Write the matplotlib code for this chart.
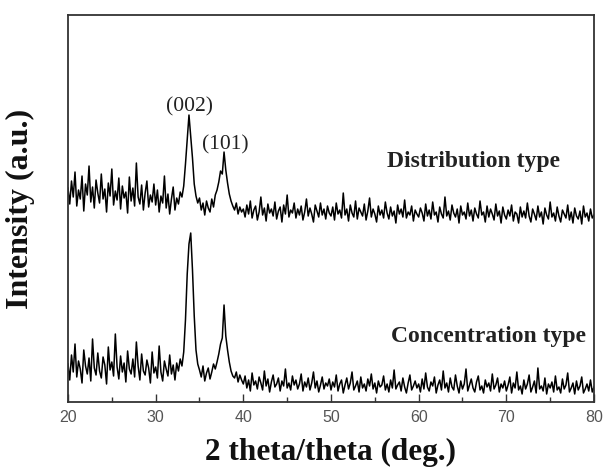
import numpy as np
import matplotlib
matplotlib.use("Agg")
import matplotlib.pyplot as plt

# intensities, 0.2 deg steps from 20 to 80 deg (arbitrary units)
dist_type = (
    # 20.0 - 29.8
    [214, 198, 221, 205, 230, 196, 212, 203, 226, 191, 218, 207, 236, 200, 215, 194, 222, 209, 199, 228,
     203, 213, 190, 219, 206, 233, 197, 211, 202, 224, 193, 216, 204, 210, 189, 225, 201, 214, 196, 239,
     205, 198, 217, 192, 209, 221, 195, 207, 200, 218]
    # 30.0 - 32.8
    + [197, 212, 190, 206, 199, 226, 194, 208, 188, 203, 215, 192, 204, 198, 210]
    # 33.0 - 34.8, (002)
    + [205, 216, 238, 262, 287, 266, 244, 218, 206, 199]
    # 35.0 - 36.8
    + [204, 192, 199, 187, 201, 194, 190, 203, 195, 207]
    # 37.0 - 38.8, (101)
    + [212, 220, 231, 228, 250, 232, 219, 208, 201, 196]
    # 39.0 - 39.8
    + [192, 199, 188, 195, 190]
    # 40.0 - 49.8
    + [193, 185, 197, 188, 201, 184, 192, 196, 182, 190, 205, 187, 194, 181, 198, 189, 193, 186, 200, 183,
       191, 195, 180, 197, 188, 207, 185, 192, 189, 199, 184, 193, 187, 196, 182, 190, 203, 186, 194, 188,
       180, 197, 191, 185, 199, 187, 193, 183, 196, 189]
    # 50.0 - 59.8
    + [186, 195, 182, 199, 188, 192, 184, 209, 187, 193, 181, 197, 189, 185, 201, 183, 194, 190, 186, 198,
       182, 191, 204, 185, 193, 188, 180, 196, 187, 192, 184, 200, 189, 183, 195, 186, 191, 179, 197, 188,
       193, 185, 202, 184, 190, 187, 196, 181, 192, 188]
    # 60.0 - 69.8
    + [185, 194, 189, 181, 198, 186, 192, 183, 200, 187, 190, 180, 195, 188, 184, 205, 186, 191, 182, 197,
       189, 185, 193, 179, 196, 187, 190, 183, 199, 186, 192, 181, 194, 188, 184, 201, 187, 190, 180, 196,
       185, 193, 188, 182, 198, 186, 191, 179, 195, 187]
    # 70.0 - 80.0
    + [183, 192, 186, 197, 181, 190, 188, 179, 195, 185, 191, 184, 199, 186, 180, 193, 188, 182, 196, 185,
       190, 178, 194, 187, 183, 200, 185, 189, 181, 195, 186, 180, 192, 188, 184, 197, 182, 190, 179, 194,
       186, 183, 191, 178, 196, 185, 189, 181, 193, 184, 187]
)

conc_type = (
    # 20.0 - 29.8
    [38, 22, 47, 30, 58, 25, 41, 33, 19, 52, 36, 28, 44, 21, 63, 34, 27, 49, 31, 24,
     45, 37, 18, 55, 32, 40, 26, 68, 35, 23, 46, 30, 39, 20, 51, 33, 28, 43, 25, 60,
     36, 22, 48, 31, 27, 42, 34, 19, 50, 29]
    # 30.0 - 32.8
    + [35, 24, 56, 30, 21, 41, 33, 26, 47, 28, 37, 22, 39, 31, 43]
    # 33.0 - 34.8, (002)
    + [36, 50, 82, 128, 158, 169, 132, 86, 52, 38]
    # 35.0 - 36.8
    + [32, 25, 36, 21, 29, 34, 23, 30, 38, 33]
    # 37.0 - 38.8, (101)
    + [40, 48, 58, 64, 97, 66, 52, 40, 31, 26]
    # 39.0 - 39.8
    + [24, 30, 20, 27, 22]
    # 40.0 - 49.8
    + [18, 26, 14, 22, 11, 29, 17, 21, 13, 25, 19, 12, 31, 16, 23, 10, 20, 27, 15, 18,
       24, 11, 21, 16, 33, 14, 19, 12, 26, 17, 22, 13, 18, 28, 11, 20, 15, 24, 12, 19,
       30, 14, 21, 10, 17, 25, 13, 19, 16, 23]
    # 50.0 - 59.8
    + [12, 20, 15, 27, 11, 18, 22, 9, 17, 24, 13, 19, 30, 12, 16, 21, 10, 25, 14, 18,
       11, 23, 16, 28, 13, 19, 9, 21, 15, 17, 26, 12, 18, 10, 22, 14, 32, 13, 17, 20,
       11, 24, 15, 9, 19, 27, 12, 16, 21, 14]
    # 60.0 - 69.8
    + [18, 10, 23, 13, 29, 15, 11, 20, 16, 25, 9, 17, 22, 12, 31, 14, 19, 10, 24, 15,
       12, 27, 16, 9, 21, 13, 18, 33, 11, 17, 23, 14, 10, 20, 26, 12, 16, 9, 22, 15,
       19, 11, 28, 13, 17, 24, 10, 18, 14, 21]
    # 70.0 - 80.0
    + [11, 17, 25, 9, 19, 14, 30, 12, 16, 8, 22, 13, 18, 27, 10, 15, 21, 9, 34, 13,
       16, 11, 24, 8, 18, 14, 20, 10, 26, 12, 15, 9, 23, 13, 17, 29, 10, 14, 19, 8,
       21, 12, 16, 25, 9, 13, 18, 11, 22, 10, 15]
)

two_theta = np.linspace(20, 80, len(dist_type))

peak_labels = ["(002)", "(101)"]
peak_pos = [33.9, 37.9]
peak_lab_y = [295, 257]

serif = ["Liberation Serif", "DejaVu Serif"]

fig = plt.figure(figsize=(6.06, 4.70), dpi=100)
ax = fig.add_axes([0.1122, 0.1447, 0.868, 0.8233])

ax.plot(two_theta, dist_type, color="black", lw=1.1)
ax.plot(two_theta, conc_type, color="black", lw=1.1)

for lab, xp, yp in zip(peak_labels, peak_pos, peak_lab_y):
    ax.text(xp, yp, lab, ha="center", va="center", family=serif, fontsize=15.5, color="#222222")

ax.text(66.2, 241, "Distribution type", ha="center", va="center", family=serif,
        fontsize=17, fontweight="bold", color="#222222")
ax.text(68.0, 65, "Concentration type", ha="center", va="center", family=serif,
        fontsize=17, fontweight="bold", color="#222222")

ax.set_xlim(20, 80)
ax.set_ylim(0, 387)
ax.set_xticks(np.arange(20, 81, 10))
ax.set_xticks(np.arange(25, 80, 10), minor=True)
ax.set_yticks([])
ax.tick_params(axis="x", which="major", direction="in", length=6, width=1, color="#333333",
               labelsize=11.5, labelcolor="#555555", pad=6)
ax.tick_params(axis="x", which="minor", direction="in", length=3.5, width=1, color="#333333")
for lab in ax.get_xticklabels():
    lab.set_family(["Liberation Sans", "DejaVu Sans"])
for sp in ax.spines.values():
    sp.set_linewidth(1.3)
    sp.set_color("#333333")

ax.set_xlabel("2 theta/theta (deg.)", family=serif, fontsize=22.5, fontweight="bold",
              color="#111111", labelpad=9)
ax.set_ylabel("Intensity (a.u.)", family=serif, fontsize=23, fontweight="bold",
              color="#111111", labelpad=24)

fig.savefig("out.png", dpi=100)
